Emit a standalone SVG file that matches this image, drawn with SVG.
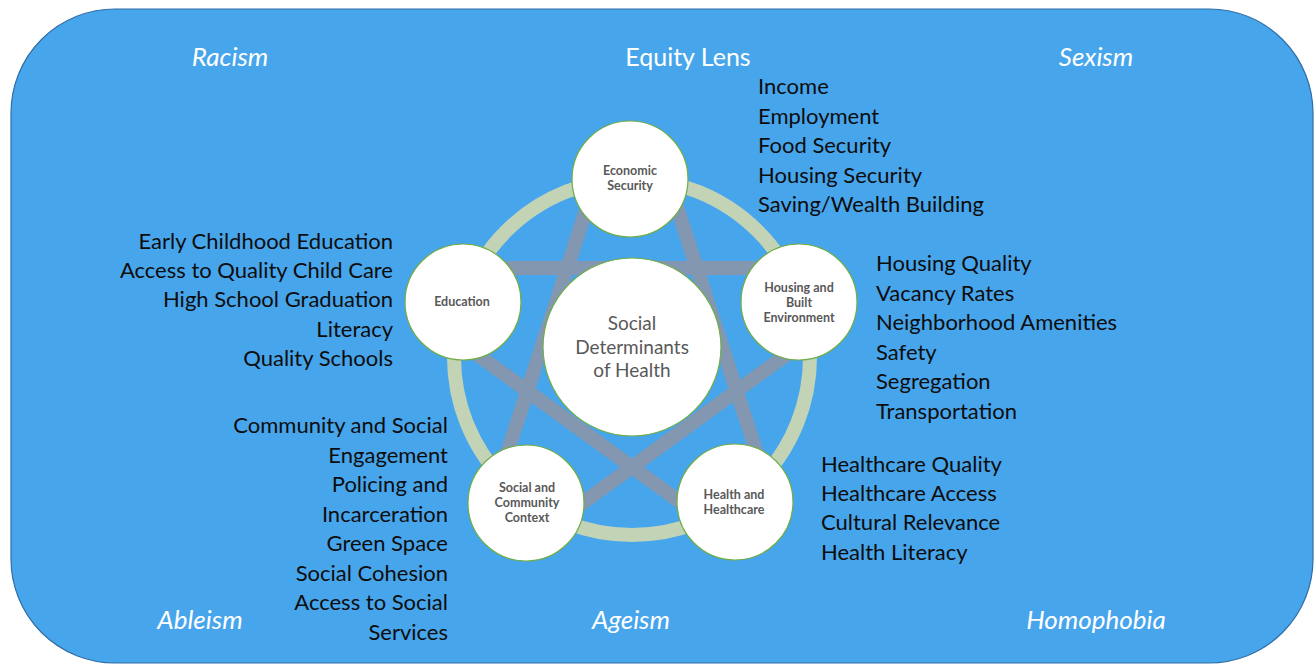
<svg xmlns="http://www.w3.org/2000/svg" width="1315" height="664" viewBox="0 0 1315 664">
  <style>
    .frame { fill: #47A5EC; stroke: #2F6EA6; stroke-width: 1.2; }
    .ring { fill: none; stroke: #C3D4B6; stroke-width: 14; }
    .star { stroke: #8497B0; stroke-width: 14; stroke-linecap: butt; }
    .node { fill: #FFFFFF; stroke: #70AD47; stroke-width: 1.2; }
    .lbl { font-family: Lato, "Open Sans", sans-serif; font-weight: bold; font-size: 12.5px; fill: #595959; text-anchor: middle; }
    .core { font-family: Lato, "Open Sans", sans-serif; font-size: 19px; fill: #595959; text-anchor: middle; }
    .hdr { font-family: Lato, "Open Sans", sans-serif; font-size: 25px; fill: #FFFFFF; text-anchor: middle; }
    .ism { font-style: italic; font-size: 26px; }
    .lst { font-family: Lato, "Open Sans", sans-serif; font-size: 22px; fill: #0D0D0D; }
    .r { text-anchor: end; }
  </style>

  <!-- outer panel -->
  <rect class="frame" x="11" y="9" width="1302" height="654" rx="104" ry="104"/>

  <!-- headers -->
  <g id="headers">
    <text class="hdr ism" x="230" y="66">Racism</text>
    <text class="hdr" x="688" y="66">Equity Lens</text>
    <text class="hdr ism" x="1096" y="66">Sexism</text>
    <text class="hdr ism" x="200" y="629">Ableism</text>
    <text class="hdr ism" x="631" y="629">Ageism</text>
    <text class="hdr ism" x="1096" y="629">Homophobia</text>
  </g>

  <!-- connectors: ring and pentagram -->
  <g id="connectors">
    <circle class="ring" cx="632" cy="357" r="178"/>
    <line class="star" x1="596" y1="179" x2="491" y2="503"/>
    <line class="star" x1="668" y1="179" x2="773" y2="503"/>
    <line class="star" x1="463" y1="268" x2="799" y2="268"/>
    <line class="star" x1="455" y1="338.5" x2="720" y2="531"/>
    <line class="star" x1="809" y1="338.5" x2="544" y2="531"/>
  </g>

  <g id="node-center">
    <circle class="node" cx="632" cy="347" r="89"/>
    <text class="core" x="632" y="330">Social</text>
    <text class="core" x="632" y="354">Determinants</text>
    <text class="core" x="632" y="377">of Health</text>
  </g>

  <g id="node-economic">
    <circle class="node" cx="630" cy="179" r="58"/>
    <text class="lbl" x="630" y="175">Economic</text>
    <text class="lbl" x="630" y="190">Security</text>
  </g>

  <g id="node-education">
    <circle class="node" cx="463" cy="302" r="58"/>
    <text class="lbl" x="462" y="306">Education</text>
  </g>

  <g id="node-housing">
    <circle class="node" cx="799" cy="302" r="58"/>
    <text class="lbl" x="799" y="292">Housing and</text>
    <text class="lbl" x="799" y="307">Built</text>
    <text class="lbl" x="799" y="322">Environment</text>
  </g>

  <g id="node-social">
    <circle class="node" cx="526" cy="503" r="58"/>
    <text class="lbl" x="527" y="492">Social and</text>
    <text class="lbl" x="527" y="507">Community</text>
    <text class="lbl" x="527" y="522">Context</text>
  </g>

  <g id="node-health">
    <circle class="node" cx="735" cy="502" r="58"/>
    <text class="lbl" x="734" y="499">Health and</text>
    <text class="lbl" x="734" y="514">Healthcare</text>
  </g>

  <!-- factor lists -->
  <g id="list-economic" class="lst">
    <text x="758" y="94">Income</text>
    <text x="758" y="124">Employment</text>
    <text x="758" y="153">Food Security</text>
    <text x="758" y="183">Housing Security</text>
    <text x="758" y="212">Saving/Wealth Building</text>
  </g>

  <g id="list-education" class="lst r">
    <text x="393" y="249">Early Childhood Education</text>
    <text x="393" y="278">Access to Quality Child Care</text>
    <text x="393" y="307">High School Graduation</text>
    <text x="393" y="337">Literacy</text>
    <text x="393" y="366">Quality Schools</text>
  </g>

  <g id="list-housing" class="lst">
    <text x="876" y="271">Housing Quality</text>
    <text x="876" y="301">Vacancy Rates</text>
    <text x="876" y="330">Neighborhood Amenities</text>
    <text x="876" y="360">Safety</text>
    <text x="876" y="389">Segregation</text>
    <text x="876" y="419">Transportation</text>
  </g>

  <g id="list-social" class="lst r">
    <text x="448" y="433">Community and Social</text>
    <text x="448" y="463">Engagement</text>
    <text x="448" y="492">Policing and</text>
    <text x="448" y="522">Incarceration</text>
    <text x="448" y="551">Green Space</text>
    <text x="448" y="581">Social Cohesion</text>
    <text x="448" y="610">Access to Social</text>
    <text x="448" y="640">Services</text>
  </g>

  <g id="list-health" class="lst">
    <text x="821" y="472">Healthcare Quality</text>
    <text x="821" y="501">Healthcare Access</text>
    <text x="821" y="530">Cultural Relevance</text>
    <text x="821" y="560">Health Literacy</text>
  </g>
</svg>
